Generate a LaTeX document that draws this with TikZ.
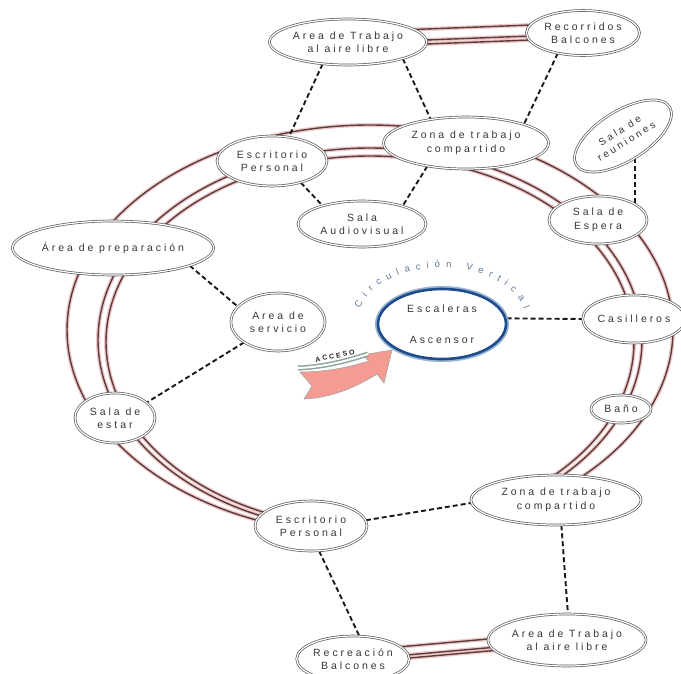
\documentclass[tikz,border=0pt]{standalone}
\usepackage{fontspec}
\newfontfamily\lab[LetterSpace=28]{Liberation Sans}
\newfontfamily\cvf{Liberation Sans}
\usetikzlibrary{shapes.geometric,decorations.text,calc}
\pgfdeclarelayer{back}
\pgfdeclarelayer{bg}
\pgfsetlayers{back,bg,main}
\definecolor{txt}{RGB}{55,55,55}
\definecolor{ringc}{RGB}{90,60,60}
\definecolor{glow}{RGB}{240,200,200}
\definecolor{ndc}{RGB}{90,90,90}
\definecolor{blu}{RGB}{30,75,140}
\definecolor{lblu}{RGB}{150,180,210}
\definecolor{cvc}{RGB}{95,120,155}
\definecolor{pinkf}{RGB}{245,155,145}
\definecolor{bandc}{RGB}{140,165,155}
\tikzset{
 nd/.style={ellipse, draw=ndc, double=white, double distance=1.2pt, line width=0.7pt, fill=white, inner sep=0pt, align=center, text=txt, font=\lab\fontsize{10.5}{13.5}\selectfont},
 dsh/.style={draw=black!90, line width=1.9pt, dash pattern=on 5pt off 3pt},
 glowl/.style={draw=glow, line width=4pt},
 ringl/.style={draw=ringc, line width=1.4pt},
}
\begin{document}
\begin{tikzpicture}[x=1pt,y=-1pt]
\useasboundingbox (0,0) rectangle (681,673);
\begin{pgfonlayer}{back}
\fill[white] (0,0) rectangle (681,673);
\end{pgfonlayer}
% nodes
\node[nd, minimum width=157pt, minimum height=46pt] (atT) at (348,42) {Area de Trabajo\\al aire libre};
\node[nd, minimum width=113pt, minimum height=45pt] (rec) at (583,33) {Recorridos\\Balcones};
\node[nd, minimum width=165pt, minimum height=52pt] (zonaT) at (466,143) {Zona de trabajo\\compartido};
\node[nd, minimum width=110pt, minimum height=50pt] (escT) at (272,161) {Escritorio\\Personal};
\node[nd, rotate=32, minimum width=110pt, minimum height=50pt, font=\lab\fontsize{10}{12.5}\selectfont] (reu) at (623,136) {Sala de\\reuniones};
\node[nd, minimum width=128pt, minimum height=46pt] (aud) at (362,224) {Sala\\Audiovisual};
\node[nd, minimum width=98pt, minimum height=48pt] (esp) at (598,220) {Sala de\\Espera};
\node[nd, minimum width=198pt, minimum height=54pt] (prep) at (113,248) {Área de preparación};
\node[nd, minimum width=94pt, minimum height=58pt] (serv) at (278,322) {Area de\\servicio};
\node[ellipse, draw=blu, line width=2.6pt, fill=white, preaction={draw=lblu, line width=6pt}, minimum width=128pt, minimum height=70pt, inner sep=0pt, align=center, text=txt, font=\lab\fontsize{10.5}{13.5}\selectfont] (esc) at (442,324) {Escaleras\\[17pt]Ascensor};
\node[nd, minimum width=92pt, minimum height=48pt] (cas) at (634,319) {Casilleros};
\node[nd, minimum width=60pt, minimum height=28pt] (bano) at (621,409) {Baño};
\node[nd, minimum width=80pt, minimum height=50pt] (estar) at (115,418) {Sala de\\estar};
\node[nd, minimum width=170pt, minimum height=50pt] (zonaB) at (556,500) {Zona de trabajo\\compartido};
\node[nd, minimum width=112pt, minimum height=50pt] (escB) at (311,526) {Escritorio\\Personal};
\node[nd, minimum width=100pt, minimum height=46pt] (recre) at (353,659) {Recreación\\Balcones};
\node[nd, minimum width=158pt, minimum height=52pt] (atB) at (567,640) {Area de Trabajo\\al aire libre};
% circulation label
\begin{scope}[transform canvas={shift={(442,326)}}]
\path[decorate, decoration={text along path, text={|\cvf\fontsize{9.5}{11}\selectfont|Circulación Vertical}, text color=cvc, text align=fit to path}] (-82,-17) .. controls (-60,-72) and (60,-72) .. (82,-17);
\end{scope}
% access arrow
\draw[draw=gray!70, fill=pinkf, line width=0.6pt] (300,372) .. controls (330,372) and (352,366) .. (369,361) -- (362,355) -- (392,350) -- (384,383) -- (377,374) .. controls (355,388) and (330,398) .. (304,399) -- (312,386) -- cycle;
\draw[line width=5pt, bandc] (298,368) .. controls (325,367) and (350,360) .. (368,354);
\draw[line width=2pt, white] (298,368) .. controls (325,367) and (350,360) .. (368,354);
\node[font=\lab\bfseries\fontsize{7}{8}\selectfont, rotate=11, text=black!85] (acc) at (335,356) {ACCESO};
\begin{pgfonlayer}{bg}
% ring (open at the bottom, between the two lower desks)
\foreach \cx/\cy/\rx/\ry in {370/330/303/205, 370/340/272/192, 370/342/264/186}{
  \draw[glowl] plot[domain=100:415, samples=150, smooth] ({\cx+\rx*cos(\x)},{\cy+\ry*sin(\x)});
}
\foreach \cx/\cy/\rx/\ry in {370/330/303/205, 370/340/272/192, 370/342/264/186}{
  \draw[ringl] plot[domain=100:415, samples=150, smooth] ({\cx+\rx*cos(\x)},{\cy+\ry*sin(\x)});
}
% balcony links
\foreach \s in {10,-1,-5}{
  \draw[glowl, transform canvas={yshift=\s pt}] (atT.center) -- (rec.center);
  \draw[glowl, transform canvas={yshift=0.8*\s pt}] (recre.center) -- (atB.center);
}
\foreach \s in {10,-1,-5}{
  \draw[ringl, transform canvas={yshift=\s pt}] (atT.center) -- (rec.center);
  \draw[ringl, transform canvas={yshift=0.8*\s pt}] (recre.center) -- (atB.center);
}
% dashed links
\draw[dsh] (atT.221) -- (escT.55);
\draw[dsh] (atT.-17) -- (zonaT.146);
\draw[dsh] (rec.219) -- (zonaT.18);
\draw[dsh] (escT.-37) -- (aud.155);
\draw[dsh] (zonaT.211) -- (aud.24);
\draw[dsh] (esp.23 |- reu.south) -- (esp.23);
\draw[dsh] (prep.-13) -- (serv.159);
\draw[dsh] (serv.211) -- (estar.26);
\draw[dsh] (esc.5) -- (cas.west);
\draw[dsh] (escB.6) -- (zonaB.182);
\draw[dsh] (escB.-72) -- (recre.75);
\draw[dsh] (zonaB.-78) -- (atB.88);
\end{pgfonlayer}
\end{tikzpicture}
\end{document}
